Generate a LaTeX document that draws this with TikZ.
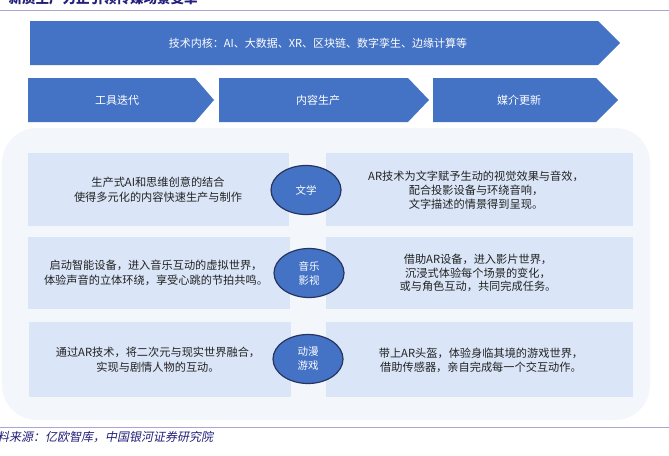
\documentclass[tikz,border=0pt]{standalone}
\usepackage{fontspec}
\setmainfont{Liberation Serif}
\newfontfamily\cjk{Noto Sans CJK SC}
\newfontfamily\cjkslant[FakeSlant=0.2]{Noto Sans CJK SC}
\usetikzlibrary{shapes.geometric}
\definecolor{arrowblue}{HTML}{4472C4}
\definecolor{boxblue}{HTML}{DAE6F8}
\definecolor{bgblue}{HTML}{F3F6FB}
\definecolor{navy}{HTML}{22207A}
\definecolor{linelav}{HTML}{ABA5D6}
\definecolor{circleedge}{HTML}{26355F}
\definecolor{txt}{HTML}{222222}
\tikzset{
  chevron/.style={fill=arrowblue},
  arrowtext/.style={text=white, font=\cjk\fontsize{11}{13}\selectfont, inner sep=0},
  infobox/.style={fill=boxblue},
  boxtext/.style={text=txt, align=center, inner sep=0},
  ltext/.style={boxtext, font=\cjk\fontsize{11.2}{15}\selectfont},
  rtext/.style={boxtext, font=\cjk\fontsize{11.2}{13.8}\selectfont},
  topic/.style={ellipse, draw=circleedge, line width=1.2pt, fill=arrowblue,
    minimum width=70pt, minimum height=49pt, inner sep=0, text=white,
    align=center, font=\cjk\fontsize{10.5}{14}\selectfont},
  rule/.style={draw=linelav, line width=1.5pt}
}
\begin{document}
\begin{tikzpicture}[x=1pt,y=-1pt]
\useasboundingbox (0,0) rectangle (669,455);
\clip (0,0) rectangle (669,455);
\fill[white] (0,0) rectangle (669,455);

% title (cut off at top, as in the reference)
\node[anchor=west, inner sep=0, text=navy, font=\cjk\bfseries\fontsize{13.5}{14}\selectfont] (title) at (-5,-1.5) {：新质生产力正引领传媒场景变革};
\coordinate (tl) at (0,10.5);
\coordinate (tr) at (669,10.5);
\draw[rule] (tl) -- (tr);

% big arrow
\fill[chevron] (30,21) -- (598,21) -- (620,43) -- (598,65) -- (30,65) -- cycle;
\node[arrowtext] (core) at (318,43) {技术内核：AI、大数据、XR、区块链、数字孪生、边缘计算等};

% row of three arrows
\fill[chevron] (28,78) -- (195,78) -- (214,100) -- (195,122) -- (28,122) -- cycle;
\fill[chevron] (219,78) -- (408,78) -- (429,100) -- (408,122) -- (219,122) -- cycle;
\fill[chevron] (433,78) -- (596,78) -- (618,100) -- (596,122) -- (433,122) -- cycle;
\node[arrowtext] (tool) at (117,100) {工具迭代};
\node[arrowtext] (content) at (318,100) {内容生产};
\node[arrowtext] (media) at (519,100) {媒介更新};

% background panel
\fill[bgblue, rounded corners=35pt] (2,128) rectangle (650,420);

% rows
\fill[infobox] (28,153) rectangle (289,226);
\fill[infobox] (326,153) rectangle (633,226);
\fill[infobox] (28,237) rectangle (290,309);
\fill[infobox] (326,237) rectangle (633,309);
\fill[infobox] (29,322) rectangle (291,397);
\fill[infobox] (326,322) rectangle (633,397);

\node[ltext] (l1) at (158,190) {生产式AI和思维创意的结合\\使得多元化的内容快速生产与制作};
\node[rtext] (r1) at (476,190) {AR技术为文字赋予生动的视觉效果与音效，\\配合投影设备与环绕音响，\\文字描述的情景得到呈现。};
\node[topic] (c1) at (306,190) {文学};

\node[ltext] (l2) at (156,273) {启动智能设备，进入音乐互动的虚拟世界，\\体验声音的立体环绕，享受心跳的节拍共鸣。};
\node[rtext] (r2) at (478,273) {借助AR设备，进入影片世界，\\沉浸式体验每个场景的变化，\\或与角色互动，共同完成任务。};
\node[topic] (c2) at (309,273) {音乐\\影视};

\node[ltext] (l3) at (158,360) {通过AR技术，将二次元与现实世界融合，\\实现与剧情人物的互动。};
\node[rtext] (r3) at (481,360) {带上AR头盔，体验身临其境的游戏世界，\\借助传感器，亲自完成每一个交互动作。};
\node[topic] (c3) at (308,359) {动漫\\游戏};

% footer
\coordinate (bl) at (0,427.5);
\coordinate (br) at (669,427.5);
\draw[rule] (bl) -- (br);
\node[anchor=west, inner sep=0, text=navy, font=\cjkslant\fontsize{12}{12}\selectfont] (source) at (-3,437) {料来源：亿欧智库，中国银河证券研究院};
\end{tikzpicture}
\end{document}
